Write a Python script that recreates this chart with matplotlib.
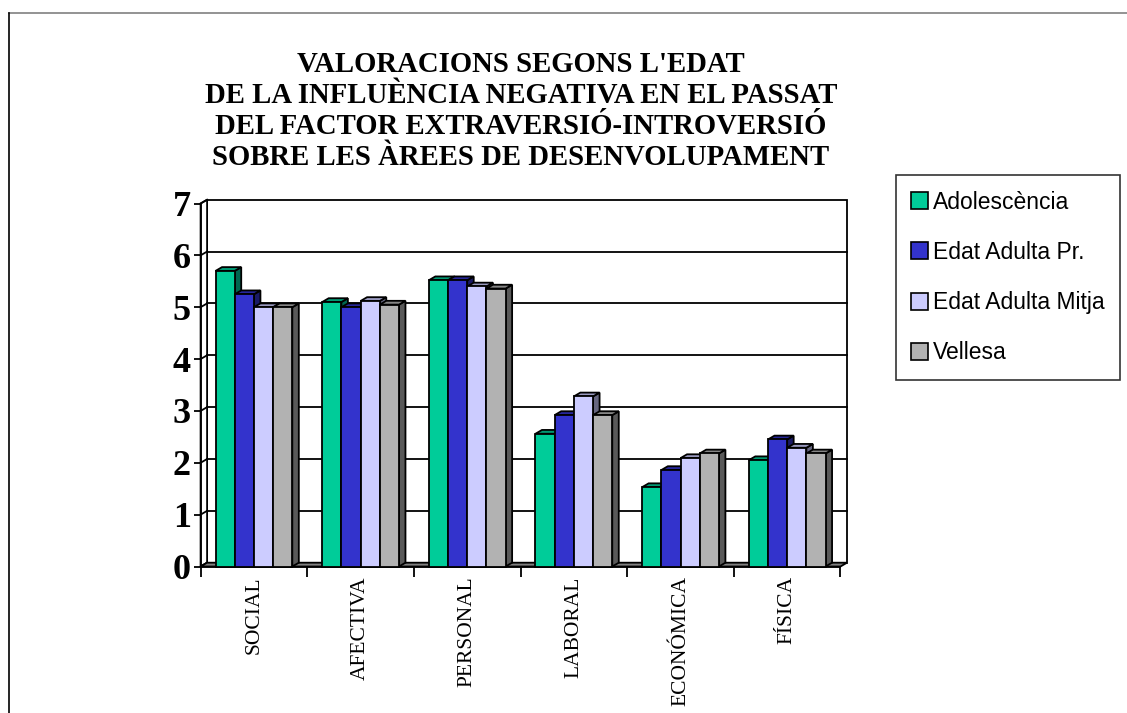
import matplotlib
matplotlib.use('Agg')
import matplotlib.pyplot as plt
from matplotlib.patches import Polygon, Patch
from matplotlib.lines import Line2D

# dades llegides del gràfic
arees = ['SOCIAL', 'AFECTIVA', 'PERSONAL', 'LABORAL', 'ECONÓMICA', 'FÍSICA']
series = ['Adolescència', 'Edat Adulta Pr.', 'Edat Adulta Mitja', 'Vellesa']
adolescencia = [5.7, 5.1, 5.52, 2.56, 1.53, 2.05]
adulta_pr = [5.25, 5.0, 5.52, 2.92, 1.86, 2.45]
adulta_mitja = [5.0, 5.12, 5.4, 3.28, 2.09, 2.29]
vellesa = [5.0, 5.05, 5.36, 2.92, 2.18, 2.18]
valors = [adolescencia, adulta_pr, adulta_mitja, vellesa]
yticks = [0, 1, 2, 3, 4, 5, 6, 7]

# colors: cara frontal, cara superior, lateral
colors = ['#00CC99', '#3333CC', '#CCCCFF', '#B2B2B2']
tops = ['#009973', '#262699', '#9999BF', '#868686']
sides = ['#006650', '#1A1A66', '#666680', '#595959']

W, H = 1127, 713
fig = plt.figure(figsize=(W / 100, H / 100), dpi=100)
fig.patch.set_facecolor('white')

# eix frontal (pla davanter)
x0p, x1p, y0p, y1p = 200.6, 840.5, 566.5, 203.5
ax = fig.add_axes([x0p / W, 1 - y0p / H, (x1p - x0p) / W, (y0p - y1p) / H])
ax.set_xlim(-0.5, len(arees) - 0.5)
ax.set_ylim(0, 7)
ax.patch.set_alpha(0)
for s in ax.spines.values():
    s.set_visible(False)

# profunditat en unitats de dades
px_x = (x1p - x0p) / len(arees)
px_y = (y0p - y1p) / 7
dx = 6.5 / px_x
dy = 3.8 / px_y
xa, xb = -0.5, len(arees) - 0.5
lw = 1.3

def poly(pts, fc, z):
    ax.add_patch(Polygon(pts, closed=True, facecolor=fc, edgecolor='black',
                         linewidth=lw, clip_on=False, zorder=z, joinstyle='miter'))

# paret del fons
poly([(xa + dx, dy), (xb + dx, dy), (xb + dx, 7 + dy), (xa + dx, 7 + dy)], 'white', 1)
for k in yticks[1:-1]:
    ax.plot([xa + dx, xb + dx], [k + dy, k + dy], color='black', lw=lw, clip_on=False, zorder=1.5)
# paret esquerra
poly([(xa, 0), (xa + dx, dy), (xa + dx, 7 + dy), (xa, 7)], 'white', 1.2)
for k in yticks:
    ax.plot([xa, xa + dx], [k, k + dy], color='black', lw=lw, clip_on=False, zorder=1.6)
# terra
poly([(xa, 0), (xb, 0), (xb + dx, dy), (xa + dx, dy)], '#808080', 2)

# barres
bw = 0.18
for i in range(len(arees)):
    start = i - 2 * bw
    for j, vals in enumerate(valors):
        x = start + j * bw
        v = vals[i]
        poly([(x + bw, 0), (x + bw + dx, dy), (x + bw + dx, v + dy), (x + bw, v)], sides[j], 3)
        poly([(x, v), (x + bw, v), (x + bw + dx, v + dy), (x + dx, v + dy)], tops[j], 3)
        poly([(x, 0), (x + bw, 0), (x + bw, v), (x, v)], colors[j], 3)

# eixos
ax.set_yticks(yticks)
ax.set_yticklabels([str(t) for t in yticks], fontfamily='Liberation Serif',
                   fontweight='bold', fontsize=26)
ax.tick_params(axis='y', length=5, width=lw, pad=2, direction='out')
ax.set_xticks(range(len(arees)))
ax.set_xticklabels(arees, rotation=90, fontfamily='Liberation Serif', fontsize=15.5, va='top')
ax.tick_params(axis='x', length=0, pad=7)
ax.set_xticks([k - 0.5 for k in range(len(arees) + 1)], minor=True)
ax.tick_params(axis='x', which='minor', length=7, width=lw, direction='out')
ax.spines['left'].set_visible(True)
ax.spines['left'].set_linewidth(lw)
ax.spines['left'].set_zorder(4)
ax.spines['bottom'].set_visible(True)
ax.spines['bottom'].set_linewidth(lw)

# títol
fig.text(521 / W, 1 - 51 / H,
         "VALORACIONS SEGONS L'EDAT\nDE LA INFLUÈNCIA NEGATIVA EN EL PASSAT\n"
         "DEL FACTOR EXTRAVERSIÓ-INTROVERSIÓ\nSOBRE LES ÀREES DE DESENVOLUPAMENT",
         ha='center', va='top', fontfamily='Liberation Serif', fontweight='bold',
         fontsize=20.7, linespacing=1.19)

# llegenda
handles = [Patch(facecolor=c, edgecolor='black', linewidth=1.2) for c in colors]
leg = fig.legend(handles, series, loc='upper left',
                 bbox_to_anchor=(895.7 / W, 1 - 175 / H),
                 prop={'family': 'Liberation Sans', 'size': 16.5},
                 frameon=True, fancybox=False, edgecolor='black',
                 handlelength=0.75, handleheight=0.75, handletextpad=0.2,
                 labelspacing=1.19, borderpad=0.68, borderaxespad=0)
leg.get_frame().set_linewidth(1.2)

# marc del gràfic
fig.add_artist(Line2D([9 / W, 1], [1 - 12.7 / H, 1 - 12.7 / H], color='#808080', lw=1.2))
fig.add_artist(Line2D([9 / W, 9 / W], [0, 1 - 12.7 / H], color='black', lw=1.2))

fig.savefig('out.png', dpi=100, facecolor='white')
